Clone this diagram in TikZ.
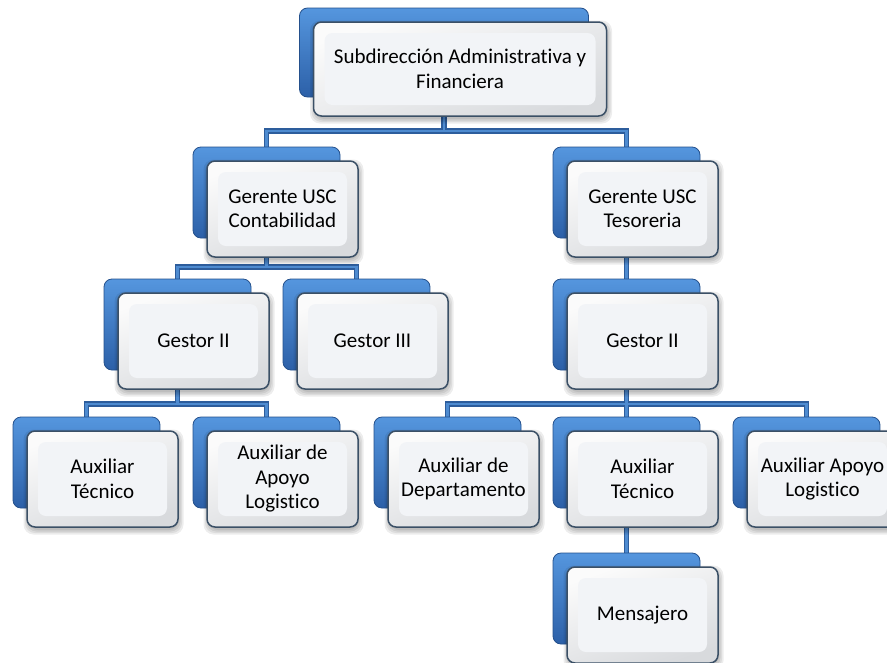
\documentclass[tikz,border=0pt]{standalone}
\usepackage{fontspec}
\setmainfont{Carlito}[Ligatures={NoCommon}]

\definecolor{backtop}{HTML}{5596DE}
\definecolor{backbot}{HTML}{2C60A8}
\definecolor{backedge}{HTML}{24508C}
\definecolor{cardedge}{HTML}{3B5066}
\definecolor{cardtop}{HTML}{FBFBFB}
\definecolor{cardbot}{HTML}{D8DADD}
\definecolor{cardface}{HTML}{F2F4F7}
\definecolor{wireedgecol}{HTML}{2D5D9C}
\definecolor{wirecorecol}{HTML}{4E8BD0}

\pgfdeclarelayer{paper}
\pgfdeclarelayer{wires}
\pgfsetlayers{paper,wires,main}

\tikzset{
  backcard/.style={rounded corners=8pt, draw=backedge, line width=0.8pt,
    top color=backtop, bottom color=backbot, inner sep=0pt},
  frontcard/.style={rounded corners=8pt, draw=cardedge, line width=1.5pt,
    top color=cardtop, bottom color=cardbot, shading angle=20,
    inner sep=2pt, align=center,
    font=\fontsize{21pt}{24.5pt}\selectfont,
    path picture={
      \fill[cardface]
        ([shift={(11pt,11pt)}]path picture bounding box.south west) rectangle
        ([shift={(-11pt,-11pt)}]path picture bounding box.north east);
    }},
  softshadow/.style={fill=black, opacity=0.07, rounded corners=10pt},
  wireouter/.style={draw=wireedgecol, line width=5.4pt, line join=miter},
  wireinner/.style={draw=wirecorecol, line width=2.8pt, line join=miter},
}

% name, centre x, centre y, width, height, label
\newcommand\orgunit[6]{%
  \node[backcard, minimum width={(#4-4)*1pt}, minimum height={(#5-5)*1pt}]
    (#1b) at ({#2-16},{#3-16.5}) {};
  \foreach \k in {0,1.5,3,4.5}{%
    \fill[softshadow] ({#2-#4/2+1-\k},{#3-#5/2+3-\k}) rectangle
                      ({#2+#4/2+1+\k},{#3+#5/2+3+\k});
  }
  \node[frontcard, minimum width={#4*1pt}, minimum height={#5*1pt}]
    (#1) at (#2,#3) {#6};
}

% all connectors of the chart, drawn with the given style
\newcommand\orgwires[1]{%
  \draw[#1] (topb.south) -- (topb.south |- 0,131) -| (gcb.north);
  \draw[#1] (topb.south) -- (topb.south |- 0,131) -| (gtb.north);
  \draw[#1] (gcb.south) -- (gcb.south |- 0,267) -| (g2lb.north);
  \draw[#1] (gcb.south) -- (gcb.south |- 0,267) -| (g3b.north);
  \draw[#1] (gtb.south) -- (g2rb.north);
  \draw[#1] (g2lb.south) -- (g2lb.south |- 0,404) -| (at1b.north);
  \draw[#1] (g2lb.south) -- (g2lb.south |- 0,404) -| (aalb.north);
  \draw[#1] (g2rb.south) -- (g2rb.south |- 0,404) -| (adb.north);
  \draw[#1] (g2rb.south) -- (g2rb.south |- 0,404) -| (at2b.north);
  \draw[#1] (g2rb.south) -- (g2rb.south |- 0,404) -| (aal2b.north);
  \draw[#1] (at2b.south) -- (menb.north);
}

\begin{document}
\begin{tikzpicture}[x=1pt, y=-1pt]
  \useasboundingbox (0,0) rectangle (887,662);
  \begin{pgfonlayer}{paper}
    \fill[white] (0,0) rectangle (887,662);
  \end{pgfonlayer}
  \clip (0,0) rectangle (887,662);

  \orgunit{top}{460}{69}{293}{94}{Subdirección Administrativa y\\Financiera}
  \orgunit{gc}{282.5}{209}{151}{96}{Gerente USC\\Contabilidad}
  \orgunit{gt}{642.5}{209}{151}{96}{Gerente USC\\Tesoreria}
  \orgunit{g2l}{193.5}{341}{151}{96}{Gestor II}
  \orgunit{g3}{372.5}{341}{151}{96}{Gestor III}
  \orgunit{g2r}{642.5}{341}{151}{96}{Gestor II}
  \orgunit{at1}{102.5}{479}{151}{96}{Auxiliar\\Técnico}
  \orgunit{aal}{282.5}{479}{151}{96}{Auxiliar de\\Apoyo\\Logistico}
  \orgunit{ad}{463.5}{479}{151}{96}{Auxiliar de\\Departamento}
  \orgunit{at2}{642.5}{479}{151}{96}{Auxiliar\\Técnico}
  \orgunit{aal2}{822.5}{479}{151}{96}{Auxiliar Apoyo\\Logistico}
  \orgunit{men}{642.5}{615}{151}{96}{Mensajero}

  \begin{pgfonlayer}{wires}
    \orgwires{wireouter}
    \orgwires{wireinner}
  \end{pgfonlayer}
\end{tikzpicture}
\end{document}
